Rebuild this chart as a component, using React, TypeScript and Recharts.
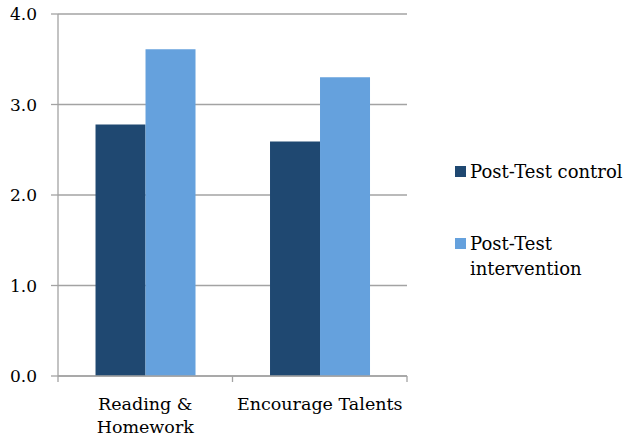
import { BarChart, Bar, XAxis, YAxis, CartesianGrid } from 'recharts'

const categories = ['Reading &\nHomework', 'Encourage Talents']
const controlValues = [2.78, 2.59]
const interventionValues = [3.61, 3.3]
const yTicks = [0, 1, 2, 3, 4]
const seriesNames = ['Post-Test control', 'Post-Test intervention']
const seriesColors = ['#1F4871', '#65A1DD']

const FONT = '"DejaVu Serif", serif'
const gridClr = '#A3A3A3'

const W = 628
const H = 437
const M = { top: 14, right: 221, left: 0, bottom: 0 }
const Y_W = 58
// width of one category band, used for the boundary tick marks
const band = (W - M.left - M.right - Y_W) / categories.length

const data = categories.map((c, i) => ({
  name: c,
  control: controlValues[i],
  intervention: interventionValues[i],
}))

function CatTick(props: any) {
  const { x, y, payload, index } = props
  const lines = String(payload.value).split('\n')
  const last = index === categories.length - 1
  return (
    <g>
      <line x1={x - band / 2} x2={x - band / 2} y1={y} y2={y + 6} stroke={gridClr} strokeWidth={1.3} />
      {last && <line x1={x + band / 2} x2={x + band / 2} y1={y} y2={y + 6} stroke={gridClr} strokeWidth={1.3} />}
      <text x={x} y={y} textAnchor="middle" fill="#000" fontFamily={FONT} fontSize={17.5}>
        {lines.map((l, i) => (
          <tspan key={i} x={x} dy={i === 0 ? 34 : 23}>{l}</tspan>
        ))}
      </text>
    </g>
  )
}

export default function App() {
  return (
    <div style={{ position: 'absolute', left: 0, top: 0, width: W, height: H, background: '#fff' }}>
      <BarChart
        width={W}
        height={H}
        data={data}
        margin={M}
        barCategoryGap="21.5%"
        barGap={0}
      >
        <CartesianGrid horizontal vertical={false} stroke={gridClr} strokeWidth={1.3} />
        <XAxis
          dataKey="name"
          axisLine={{ stroke: gridClr, strokeWidth: 1.3 }}
          tickLine={false}
          tickSize={0}
          tickMargin={0}
          tick={<CatTick />}
          height={61}
          interval={0}
        />
        <YAxis
          domain={[0, 4]}
          ticks={yTicks}
          width={Y_W}
          tickFormatter={(v: number) => v.toFixed(1)}
          axisLine={{ stroke: gridClr, strokeWidth: 1.3 }}
          tickLine={{ stroke: gridClr, strokeWidth: 1.3 }}
          tickSize={7}
          tickMargin={14}
          tick={{ fill: '#000', fontFamily: FONT, fontSize: 17 }}
        />
        <Bar dataKey="control" name={seriesNames[0]} fill={seriesColors[0]} isAnimationActive={false} />
        <Bar dataKey="intervention" name={seriesNames[1]} fill={seriesColors[1]} isAnimationActive={false} />
      </BarChart>
      <div style={{ position: 'absolute', left: 455, top: 158.5, width: 172, fontFamily: FONT, fontSize: 18, lineHeight: '25px' }}>
        {seriesNames.map((n, i) => (
          <div key={n} style={{ display: 'flex', alignItems: 'flex-start', marginBottom: i === 0 ? 47 : 0 }}>
            <span style={{ display: 'inline-block', width: 11, height: 11, background: seriesColors[i], marginTop: 7, marginRight: 4, flex: 'none' }} />
            <span style={{ width: 157 }}>{n}</span>
          </div>
        ))}
      </div>
    </div>
  )
}
